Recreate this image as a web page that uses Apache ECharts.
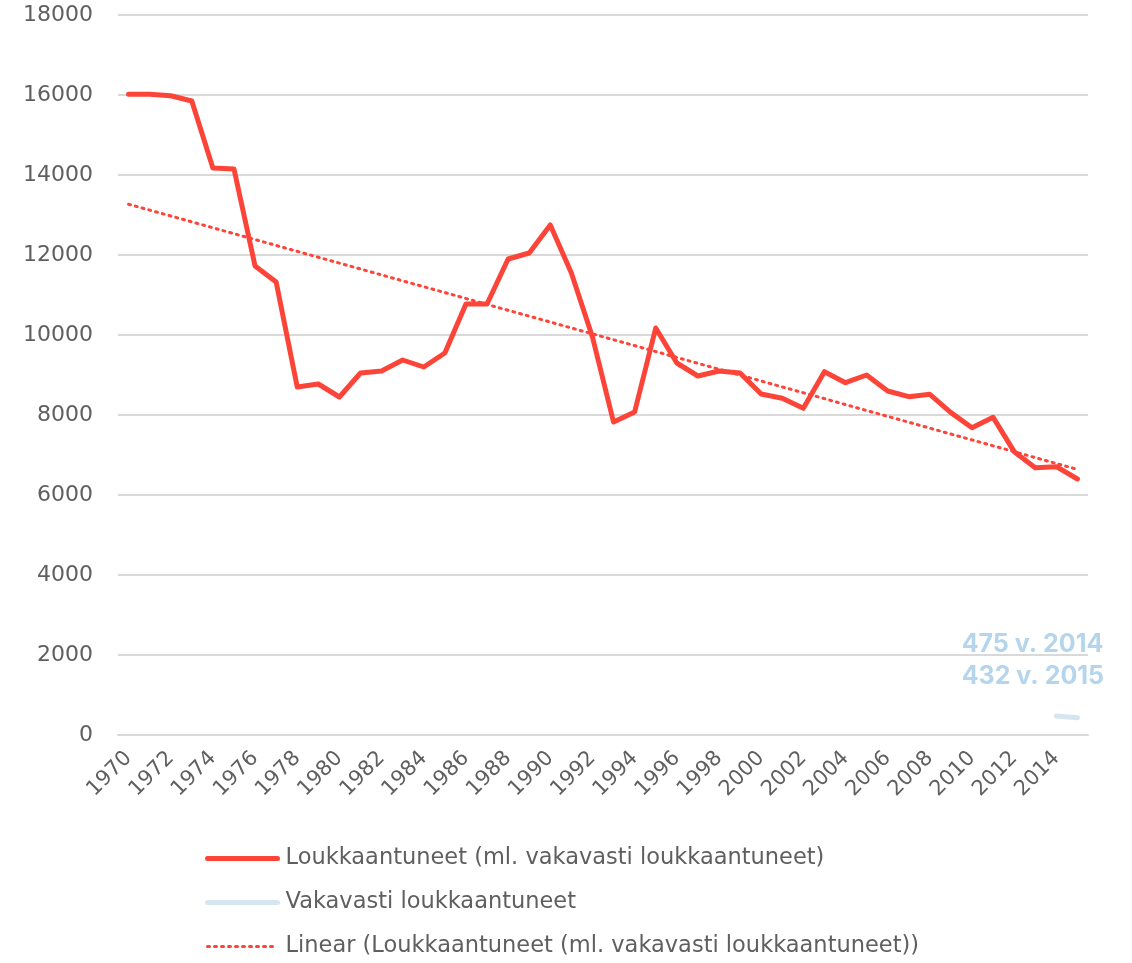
<!DOCTYPE html>
<html>
<head>
<meta charset="utf-8">
<script src="https://cdn.jsdelivr.net/npm/echarts@6/dist/echarts.min.js"></script>
<style>
  html, body { margin: 0; padding: 0; background: #fff; }
  #main { width: 1132px; height: 963px; }
</style>
</head>
<body>
<div id="main"></div>
<script>
var years = [];
for (var y = 1970; y <= 2015; y++) years.push(String(y));

// loukkaantuneet (ml. vakavasti loukkaantuneet)
var injured = [16020, 16020, 15980, 15850, 14175, 14150, 11725, 11325, 8700, 8775,
               8450, 9050, 9100, 9375, 9200, 9550, 10775, 10775, 11900, 12050,
               12750, 11550, 9950, 7825, 8075, 10175, 9300, 8975, 9100, 9050,
               8525, 8417, 8167, 9083, 8808, 9000, 8600, 8458, 8517, 8060,
               7683, 7942, 7083, 6683, 6708, 6400];

// vakavasti loukkaantuneet: only 2014 and 2015
var seriousYears = ['2014', '2015'];
var seriousValues = [475, 432];

// linear trend end points (1970, 2015)
var trendStart = 13270;
var trendEnd = 6640;

var seriousData = years.map(function (yr) {
    var k = seriousYears.indexOf(yr);
    return k >= 0 ? seriousValues[k] : null;
});
var trendData = years.map(function (yr, i) {
    if (i === 0) return trendStart;
    if (i === years.length - 1) return trendEnd;
    return null;
});

var font = 'DejaVu Sans';
var grey = '#5f5f5f';
var red = '#fd4438';
var lightBlue = '#d6e6f1';

var myChart = echarts.init(document.getElementById('main'));
myChart.setOption({
    animation: false,
    grid: { left: 118, right: 44, top: 15, bottom: 228 },
    xAxis: {
        type: 'category',
        data: years,
        boundaryGap: true,
        axisLine: { lineStyle: { color: '#d9d9d9', width: 2 } },
        axisTick: { show: false },
        axisLabel: {
            interval: 1,
            rotate: 45,
            color: grey,
            fontFamily: font,
            fontSize: 21,
            margin: 20
        }
    },
    yAxis: {
        type: 'value',
        min: 0,
        max: 18000,
        interval: 2000,
        axisLine: { show: false },
        axisTick: { show: false },
        splitLine: { lineStyle: { color: '#d9d9d9', width: 2 } },
        axisLabel: {
            color: grey,
            fontFamily: font,
            fontSize: 22,
            margin: 25,
            formatter: function (v) { return String(v); }
        }
    },
    legend: {
        orient: 'vertical',
        left: 205,
        top: 847,
        padding: 0,
        itemGap: 21,
        itemWidth: 70,
        itemHeight: 12,
        itemStyle: { opacity: 0 },
        textStyle: { color: grey, fontFamily: font, fontSize: 22.5, padding: [0, 0, 0, 3] },
        data: [
            { name: 'Loukkaantuneet (ml. vakavasti loukkaantuneet)', lineStyle: { width: 5, color: red, cap: 'round' } },
            { name: 'Vakavasti loukkaantuneet', lineStyle: { width: 5, color: lightBlue, cap: 'round' } },
            { name: 'Linear (Loukkaantuneet (ml. vakavasti loukkaantuneet))', lineStyle: { width: 3, color: red, type: [2, 5], cap: 'round' } }
        ]
    },
    graphic: [
        {
            type: 'text',
            right: 28,
            top: 628,
            style: {
                text: '475 v. 2014\n432 v. 2015',
                fill: '#b4d5ec',
                font: 'bold 25px Inter',
                lineHeight: 32,
                align: 'right'
            }
        }
    ],
    series: [
        {
            name: 'Loukkaantuneet (ml. vakavasti loukkaantuneet)',
            type: 'line',
            data: injured,
            symbol: 'none',
            color: red,
            lineStyle: { color: red, width: 5, cap: 'round', join: 'round' }
        },
        {
            name: 'Vakavasti loukkaantuneet',
            type: 'line',
            data: seriousData,
            symbol: 'none',
            color: lightBlue,
            lineStyle: { color: lightBlue, width: 5, cap: 'round' }
        },
        {
            name: 'Linear (Loukkaantuneet (ml. vakavasti loukkaantuneet))',
            type: 'line',
            data: trendData,
            connectNulls: true,
            symbol: 'none',
            color: red,
            lineStyle: { color: red, width: 3, type: [2, 5], cap: 'round' },
            z: 1
        }
    ]
});
</script>
</body>
</html>
